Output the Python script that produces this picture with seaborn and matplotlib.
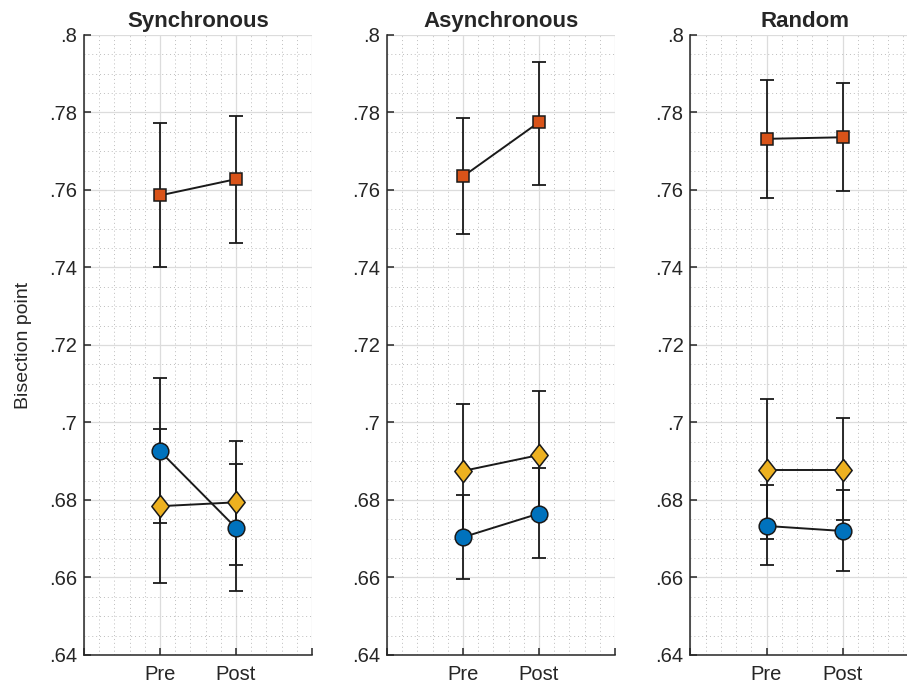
import matplotlib.pyplot as plt
import matplotlib.ticker as ticker
import numpy as np
import pandas as pd
import seaborn as sns

sns.set_style("whitegrid")
plt.rcParams["font.family"] = ["Liberation Sans", "DejaVu Sans"]

# data
conditions = ["Synchronous", "Asynchronous", "Random"]
sessions = ["Pre", "Post"]
y_ticks = [0.64, 0.66, 0.68, 0.70, 0.72, 0.74, 0.76, 0.78, 0.80]
y_tick_labels = [".64", ".66", ".68", ".7", ".72", ".74", ".76", ".78", ".8"]

# orange squares
sq_mean = [[0.7586, 0.7628], [0.7635, 0.7775], [0.7732, 0.7736]]
sq_lo = [[0.7400, 0.7464], [0.7486, 0.7614], [0.7579, 0.7598]]
sq_hi = [[0.7774, 0.7790], [0.7786, 0.7930], [0.7884, 0.7875]]

# blue circles
circ_mean = [[0.6926, 0.6728], [0.6704, 0.6765], [0.6733, 0.6720]]
circ_lo = [[0.6740, 0.6565], [0.6597, 0.6650], [0.6632, 0.6617]]
circ_hi = [[0.7114, 0.6893], [0.6813, 0.6882], [0.6838, 0.6826]]

# yellow diamonds
dia_mean = [[0.6784, 0.6794], [0.6875, 0.6916], [0.6877, 0.6877]]
dia_lo = [[0.6587, 0.6632], [0.6703, 0.6752], [0.6699, 0.6748]]
dia_hi = [[0.6983, 0.6951], [0.7047, 0.7082], [0.7061, 0.7012]]

tall_diamond = [(0, 1), (0.78, 0), (0, -1), (-0.78, 0), (0, 1)]

series = [
    # name, means, lows, highs, colour, marker, size
    ("square", sq_mean, sq_lo, sq_hi, "#D95319", "s", 8.5),
    ("circle", circ_mean, circ_lo, circ_hi, "#0072BD", "o", 12),
    ("diamond", dia_mean, dia_lo, dia_hi, "#EDB120", tall_diamond, 16),
]

fig = plt.figure(figsize=(9.07, 6.86), dpi=100)
lefts = [0.0926, 0.4267, 0.7613]

for i, cond in enumerate(conditions):
    ax = fig.add_axes([lefts[i], 0.0452, 0.2514, 0.9038])
    pos = np.arange(1, len(sessions) + 1)

    for name, means, lows, highs, color, marker, msize in series:
        m = np.array(means[i])
        lo = np.array(lows[i])
        hi = np.array(highs[i])
        df = pd.DataFrame({"pos": pos, "value": m})
        ax.errorbar(
            df["pos"], df["value"], yerr=[m - lo, hi - m], fmt="none",
            ecolor="#1a1a1a", elinewidth=1.3, capsize=5, capthick=1.3, zorder=3,
        )
        sns.lineplot(
            data=df, x="pos", y="value", ax=ax, color="#1a1a1a", linewidth=1.4,
            marker=marker, markersize=msize, markerfacecolor=color,
            markeredgecolor="#1a1a1a", markeredgewidth=1.1, zorder=4,
        )

    ax.set_xlim(0, 3)
    ax.set_ylim(0.64, 0.80)
    ax.set_xticks([0, 1, 2, 3])
    ax.set_xticklabels([""] + sessions + [""])
    ax.set_yticks(y_ticks)
    ax.set_yticklabels(y_tick_labels)
    ax.xaxis.set_minor_locator(ticker.MultipleLocator(0.2))
    ax.yaxis.set_minor_locator(ticker.MultipleLocator(0.005))

    ax.grid(which="major", color="#dcdcdc", linewidth=0.9, linestyle="-")
    ax.grid(which="minor", color="#bdbdbd", linewidth=0.7, linestyle=(0, (1, 3)))
    ax.set_axisbelow(True)

    ax.tick_params(which="major", direction="in", length=5, width=1.1,
                   color="#262626", labelcolor="#262626",
                   left=True, bottom=True)
    ax.tick_params(axis="y", labelsize=14.5, pad=5)
    ax.tick_params(axis="x", labelsize=14.5, pad=7.5)
    ax.tick_params(which="minor", length=0)
    for side in ["top", "right"]:
        ax.spines[side].set_visible(False)
    for side in ["left", "bottom"]:
        ax.spines[side].set_color("#262626")
        ax.spines[side].set_linewidth(1.1)

    ax.set_title(cond, fontsize=16, fontweight="bold", pad=6)
    ax.set_xlabel("")
    if i == 0:
        ax.set_ylabel("Bisection point", fontsize=14, color="#262626", labelpad=12)
    else:
        ax.set_ylabel("")

fig.savefig("out.png", dpi=100)
